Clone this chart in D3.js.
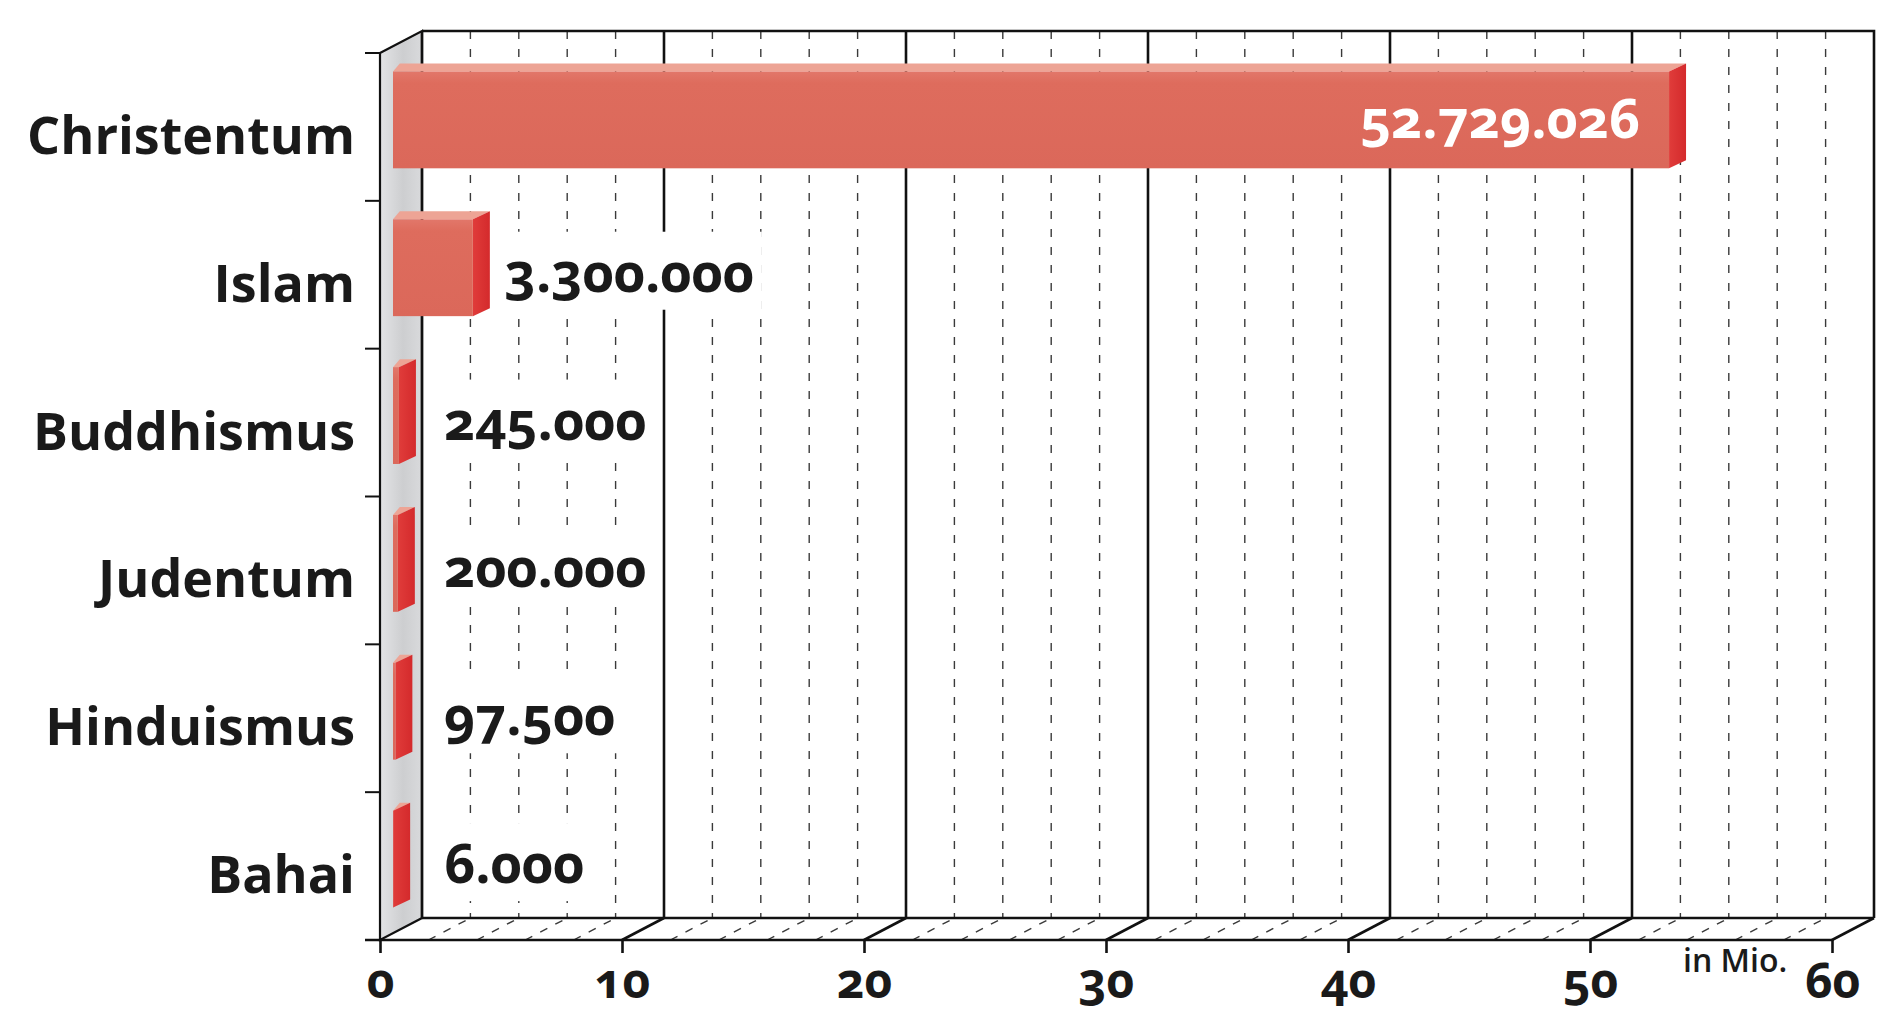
<!DOCTYPE html>
<html lang="de">
<head>
<meta charset="utf-8">
<title>Religionen in Deutschland</title>
<script src="https://cdn.jsdelivr.net/npm/d3@7"></script>
<style>
  html, body { margin: 0; padding: 0; background: #ffffff; }
  svg { display: block; }
  .label-font { font-family: "Open Sans", "Noto Sans", sans-serif; font-weight: 700; }
  .onum { font-variant-numeric: oldstyle-nums; font-feature-settings: "onum" 1; }
</style>
</head>
<body>
<svg id="chart" width="1883" height="1011"></svg>
<script>
// Religionsgemeinschaften – Mitglieder
const categories = ["Christentum", "Islam", "Buddhismus", "Judentum", "Hinduismus", "Bahai"];
const members = [52729026, 3300000, 245000, 200000, 97500, 6000];
const axisTicks = [0, 10, 20, 30, 40, 50, 60];      // in Millionen
const unitLabel = "in Mio.";

const W = 1883, H = 1011;
const svg = d3.select("#chart");

// German number formatting: 52.729.026
const de = d3.formatLocale({ decimal: ",", thousands: ".", grouping: [3], currency: ["", " €"] });
const fmt = de.format(",d");

// front edge of the floor and the category band
const x = d3.scaleLinear().domain([0, 60]).range([380, 1832]);
const y = d3.scaleBand().domain(categories).range([53, 940]).padding(0);
const bw = y.bandwidth();

// oblique depth of the box (back wall offset) and of the bars
const wall = { dx: 42, dy: -22 };
const barPos = { dx: 13, dy: -7 };     // where the bar front faces sit inside the box
const barSide = { dx: 17, dy: -8 };    // depth of each bar
const floorY = y.range()[1];
const topY = y.range()[0];
const backTop = topY + wall.dy;
const backFloor = floorY + wall.dy;

const defs = svg.append("defs");
const wallGrad = defs.append("linearGradient").attr("id", "wallGrad").attr("x1", 0).attr("x2", 1).attr("y1", 0).attr("y2", 0);
wallGrad.append("stop").attr("offset", "0%").attr("stop-color", "#e3e4e6");
wallGrad.append("stop").attr("offset", "55%").attr("stop-color", "#cdced0");
wallGrad.append("stop").attr("offset", "100%").attr("stop-color", "#d9dadc");

const faceGrad = defs.append("linearGradient").attr("id", "faceGrad").attr("x1", 0).attr("x2", 0).attr("y1", 0).attr("y2", 1);
faceGrad.append("stop").attr("offset", "0%").attr("stop-color", "#e2776a");
faceGrad.append("stop").attr("offset", "12%").attr("stop-color", "#de6c5d");
faceGrad.append("stop").attr("offset", "100%").attr("stop-color", "#db685a");

const sideGrad = defs.append("linearGradient").attr("id", "sideGrad").attr("x1", 0).attr("x2", 1).attr("y1", 0).attr("y2", 0);
sideGrad.append("stop").attr("offset", "0%").attr("stop-color", "#e03c3a");
sideGrad.append("stop").attr("offset", "100%").attr("stop-color", "#d42a2c");

svg.append("rect").attr("width", W).attr("height", H).attr("fill", "#ffffff");

const line = d3.line();
const minorTicks = d3.range(2, 60, 2).filter(v => v % 10 !== 0);
const majorTicks = axisTicks.filter(v => v > 0 && v < 60);

// ---- back wall grid ----
const grid = svg.append("g");
grid.selectAll("line.minor").data(minorTicks).join("line")
  .attr("x1", d => x(d) + wall.dx).attr("x2", d => x(d) + wall.dx)
  .attr("y1", backTop).attr("y2", backFloor)
  .attr("stroke", "#3a3a3a").attr("stroke-width", 1.4).attr("stroke-dasharray", "8,10");
grid.selectAll("line.major").data(majorTicks).join("line")
  .attr("x1", d => x(d) + wall.dx).attr("x2", d => x(d) + wall.dx)
  .attr("y1", backTop).attr("y2", backFloor)
  .attr("stroke", "#111").attr("stroke-width", 2.6);

// floor diagonals
grid.selectAll("path.fminor").data(minorTicks).join("path")
  .attr("d", d => line([[x(d), floorY], [x(d) + wall.dx, backFloor]]))
  .attr("stroke", "#3a3a3a").attr("stroke-width", 1.4).attr("stroke-dasharray", "8,9").attr("fill", "none");
grid.selectAll("path.fmajor").data(majorTicks.concat([60])).join("path")
  .attr("d", d => line([[x(d), floorY], [x(d) + wall.dx, backFloor]]))
  .attr("stroke", "#111").attr("stroke-width", 2.6).attr("fill", "none");

// box outline: back wall frame and floor edges
const frame = svg.append("g").attr("fill", "none").attr("stroke", "#111").attr("stroke-width", 2.6);
frame.append("path").attr("d", line([[x(0) + wall.dx, backTop], [x(60) + wall.dx, backTop], [x(60) + wall.dx, backFloor]]));
frame.append("path").attr("d", line([[x(0) + wall.dx, backFloor], [x(60) + wall.dx, backFloor]]));

// ---- left side wall ----
svg.append("path")
  .attr("d", line([[x(0), topY], [x(0) + wall.dx, backTop], [x(0) + wall.dx, backFloor], [x(0), floorY]]) + "Z")
  .attr("fill", "url(#wallGrad)").attr("stroke", "#111").attr("stroke-width", 2.2);
svg.append("path")
  .attr("d", line([[x(0) + wall.dx, backTop], [x(0) + wall.dx, backFloor]]))
  .attr("stroke", "#111").attr("stroke-width", 2.6);

// front baseline across the floor
svg.append("path").attr("d", line([[x(0) - 15, floorY], [x(60), floorY]]))
  .attr("stroke", "#111").attr("stroke-width", 2.6);

// category separators on the left edge
const sepY = categories.map(c => y(c)).concat([floorY]);
svg.append("g").selectAll("line").data(sepY).join("line")
  .attr("x1", x(0) - 15).attr("x2", x(0)).attr("y1", d => d).attr("y2", d => d)
  .attr("stroke", "#111").attr("stroke-width", 2);

// ---- bars ----
const rows = categories.map((c, i) => ({ cat: c, value: members[i] }));
const bars = svg.append("g").selectAll("g").data(rows).join("g");

function barGeom(d) {
  const x0 = x(0) + barPos.dx;
  const x1 = x(d.value / 1e6) + barPos.dx;
  const y0 = y(d.cat) + bw * 0.125;
  const y1 = y0 + bw * 0.655;
  return { x0, x1, y0, y1 };
}

// top face
bars.append("path")
  .attr("d", d => {
    const g = barGeom(d);
    return line([[g.x0, g.y0], [g.x1, g.y0], [g.x1 + barSide.dx, g.y0 + barSide.dy], [g.x0 + barSide.dx * 0.4, g.y0 + barSide.dy]]) + "Z";
  })
  .attr("fill", "#eda495");
// side face
bars.append("path")
  .attr("d", d => {
    const g = barGeom(d);
    return line([[g.x1, g.y0], [g.x1 + barSide.dx, g.y0 + barSide.dy], [g.x1 + barSide.dx, g.y1 + barSide.dy], [g.x1, g.y1]]) + "Z";
  })
  .attr("fill", "url(#sideGrad)");
// front face
bars.append("rect")
  .attr("x", d => barGeom(d).x0)
  .attr("y", d => barGeom(d).y0)
  .attr("width", d => barGeom(d).x1 - barGeom(d).x0)
  .attr("height", d => barGeom(d).y1 - barGeom(d).y0)
  .attr("fill", "url(#faceGrad)");

// ---- value labels ----
const labelSize = 54;
const minLabelX = 444;
const valueLabels = svg.append("g");
rows.forEach(d => {
  const g = barGeom(d);
  const cy = y(d.cat) + bw / 2;
  const inside = (g.x1 - g.x0) > 400;
  const t = valueLabels.append("text")
    .attr("class", "label-font onum")
    .attr("font-size", labelSize)
    .text(fmt(d.value));
  if (inside) {
    t.attr("x", g.x1 - 29).attr("y", cy + 11).attr("text-anchor", "end").attr("fill", "#ffffff");
  } else {
    const xl = Math.max(g.x1 + barSide.dx + 15, minLabelX);
    // labels next to the taller bars sit on the bar face centre, the rest on the band centre
    const yl = xl > minLabelX ? (g.y0 + g.y1) / 2 + 24 : cy + 17;
    t.attr("x", xl).attr("y", yl).attr("fill", "#1a1a1a");
    const bb = t.node().getBBox();
    valueLabels.insert("rect", () => t.node())
      .attr("x", bb.x - 8).attr("y", bb.y - 2).attr("width", bb.width + 16).attr("height", bb.height + 4)
      .attr("fill", "#ffffff");
  }
});

// ---- axes ----
const xAxis = d3.axisBottom(x).tickValues(axisTicks).tickSize(13).tickSizeOuter(0).tickFormat(d3.format("d"));
const gx = svg.append("g").attr("transform", `translate(0,${floorY})`).call(xAxis);
gx.select(".domain").remove();
gx.selectAll(".tick line").attr("stroke", "#111").attr("stroke-width", 2.6);
gx.selectAll(".tick text")
  .attr("class", "label-font onum")
  .attr("font-size", 48).attr("fill", "#1a1a1a")
  .attr("y", 58).attr("dy", 0);

const yAxis = d3.axisLeft(y).tickSize(0).tickPadding(0);
const gy = svg.append("g").attr("transform", `translate(${x(0) - 25},0)`).call(yAxis);
gy.select(".domain").remove();
gy.selectAll(".tick text")
  .attr("class", "label-font")
  .attr("font-size", 52).attr("fill", "#1a1a1a")
  .attr("x", 0).attr("y", 27).attr("dy", 0);

// unit note
svg.append("text")
  .attr("x", x(55) - 28).attr("y", floorY + 32)
  .attr("font-family", "'Open Sans', 'Noto Sans', sans-serif").attr("font-weight", 600)
  .attr("font-size", 32).attr("fill", "#1a1a1a")
  .text(unitLabel);
</script>
</body>
</html>
